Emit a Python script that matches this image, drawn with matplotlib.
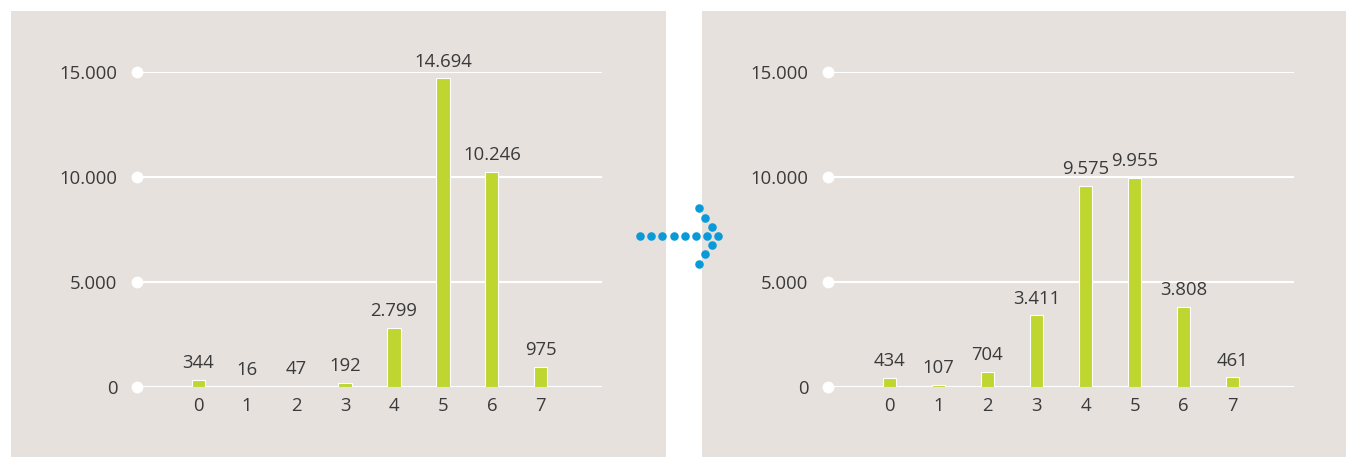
import matplotlib.pyplot as plt
from matplotlib.patches import Rectangle

# 数据
categories = [0, 1, 2, 3, 4, 5, 6, 7]
before = [344, 16, 47, 192, 2799, 14694, 10246, 975]
after = [434, 107, 704, 3411, 9575, 9955, 3808, 461]
yticks = [0, 5000, 10000, 15000]

W, H = 1346, 457
bg = '#e6e1dd'
green = '#bed62f'
blue = '#0a9ad8'
txt = '#3a3a3a'
fs = 13.3

plt.rcParams['font.family'] = ['Open Sans', 'DejaVu Sans']

fig = plt.figure(figsize=(W / 100, H / 100), dpi=100)
fig.patch.set_facecolor('white')

# 背景面板和箭头(像素坐标)
base = fig.add_axes([0, 0, 1, 1], zorder=0)
base.set_xlim(0, W)
base.set_ylim(H, 0)
base.axis('off')
base.add_patch(Rectangle((11, 11), 655, 446, color=bg, lw=0))
base.add_patch(Rectangle((702, 11), 644, 446, color=bg, lw=0))
hx = [640 + i * 11.2 for i in range(8)]
base.scatter(hx, [236] * len(hx), s=38, color=blue, lw=0)
cx = [699, 705.3, 711.7, 711.7, 705.3, 699]
cy = [208.3, 217.7, 226.7, 245, 254, 263.7]
base.scatter(cx, cy, s=38, color=blue, lw=0)


def fmt(v):
    return f'{v:,}'.replace(',', '.')


def draw(left_px, right_px, values):
    ax = fig.add_axes([left_px / W, (H - 387) / H, (right_px - left_px) / W, 315 / H], zorder=2)
    ax.set_facecolor('none')
    ax.set_xlim(-1.25, 8.25)
    ax.set_ylim(0, 15000)
    for s in ax.spines.values():
        s.set_visible(False)
    for y in yticks:
        ax.axhline(y, color='white', lw=1.5, zorder=1)
        ax.plot([-1.25], [y], 'o', color='white', ms=7.5, clip_on=False, zorder=3)
    ax.bar(categories, values, width=0.27, color=green, edgecolor='white', lw=0.8, zorder=2)
    for x, v in zip(categories, values):
        ax.annotate(fmt(v), (x, v), xytext=(0, 8.5), textcoords='offset points',
                    ha='center', va='baseline', fontsize=fs, color=txt)
    ax.set_yticks(yticks)
    ax.set_yticklabels([fmt(y) for y in yticks], fontsize=fs, color=txt)
    ax.set_xticks(categories)
    ax.set_xticklabels([str(c) for c in categories], fontsize=fs, color=txt)
    ax.tick_params(axis='y', length=0, pad=14)
    ax.tick_params(axis='x', length=0, pad=7)
    return ax


draw(137, 602, before)
draw(828, 1294, after)

fig.savefig('out.png', dpi=100, facecolor='white')
